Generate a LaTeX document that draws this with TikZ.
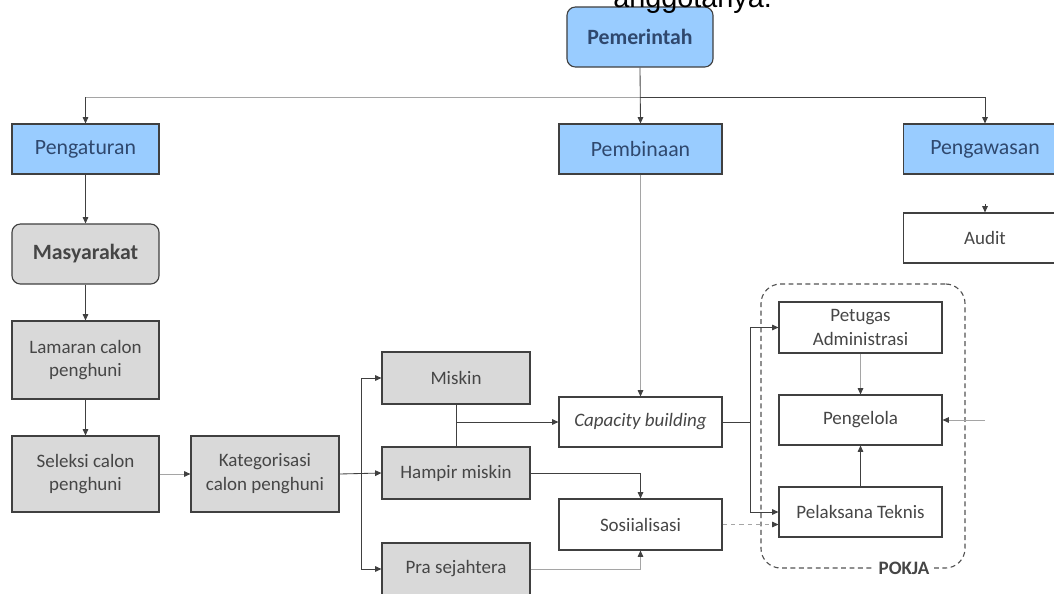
\documentclass[tikz,border=0pt]{standalone}
\usepackage{fontspec}
\setmainfont{Carlito}
\newfontfamily\arialfont{Liberation Sans}
\usetikzlibrary{arrows.meta,calc}
\definecolor{boxblue}{RGB}{153,204,255}
\definecolor{boxgrey}{RGB}{217,217,217}
\definecolor{linedark}{RGB}{64,64,64}
\definecolor{linelight}{RGB}{165,165,165}
\definecolor{textblue}{RGB}{47,72,110}
\definecolor{textgrey}{RGB}{70,70,70}
\tikzset{
	box/.style={draw=linedark, line width=0.8pt, inner sep=2pt, align=center, text=textgrey, font=\fontsize{13.5}{17}\selectfont},
	bluebox/.style={box, fill=boxblue, text=textblue, font=\fontsize{15.5}{18}\selectfont},
	greybox/.style={box, fill=boxgrey},
	arr/.style={draw=linedark, line width=0.6pt, -{Triangle[length=4.5pt,width=4pt,color=linedark]}},
	lightarr/.style={arr, draw=linelight},
}

\begin{document}
\begin{tikzpicture}[x=0.025cm, y=-0.025cm]
		%%%%% START %%%%%
		\useasboundingbox (0,0) rectangle (1054,593);
		
		\node[bluebox, rounded corners=6pt, minimum width=3.65cm, minimum height=1.5cm, font=\bfseries\fontsize{15.5}{18}\selectfont] (pemerintah) at (640,37) {Pemerintah};
		\node[anchor=base west, inner sep=0pt, font=\arialfont\fontsize{20.5}{24}\selectfont] (judul) at (613,7) {anggotanya.};
		
		\node[bluebox, minimum width=3.675cm, minimum height=1.25cm] (pengaturan) at (85.5,149) {Pengaturan};
		\node[bluebox, minimum width=4.075cm, minimum height=1.25cm] (pembinaan) at (640.5,149) {Pembinaan};
		\node[bluebox, minimum width=4.075cm, minimum height=1.25cm] (pengawasan) at (985,149) {Pengawasan};
		\node[box, minimum width=4.075cm, minimum height=1.25cm] (audit) at (985,238) {Audit};
		
		\coordinate (hub) at (640,97);
		\draw[draw=linelight, line width=0.6pt] (hub) -- (hub -| pengaturan);
		\draw[arr] (hub -| pengaturan) -- (pengaturan.north);
		\draw[arr] (pemerintah.south) -- (pembinaan.north);
		\draw[arr] (hub) -| (pengawasan.north);
		\coordinate (auditin) at (985,204);
		\draw[arr] (auditin) -- (audit.north);
		
		% alur masyarakat
		\node[greybox, rounded corners=6pt, minimum width=3.675cm, minimum height=1.5cm, font=\bfseries\fontsize{15.5}{18}\selectfont] (masyarakat) at (85.5,254) {Masyarakat};
		\node[greybox, minimum width=3.675cm, minimum height=1.95cm] (lamaran) at (85.5,360) {Lamaran calon\\penghuni};
		\node[greybox, minimum width=3.675cm, minimum height=1.9cm] (seleksi) at (85.5,474) {Seleksi calon\\penghuni};
		\node[greybox, minimum width=3.7cm, minimum height=1.9cm] (kategorisasi) at (265,474) {Kategorisasi\\calon penghuni};
		
		\draw[arr] (pengaturan.south) -- (masyarakat.north);
		\draw[arr] (masyarakat.south) -- (lamaran.north);
		\draw[arr] (lamaran.south) -- (seleksi.north);
		\draw[lightarr] (seleksi.east) -- (kategorisasi.west);
		
		\node[greybox, minimum width=3.7cm, minimum height=1.3cm] (miskin) at (456,378) {Miskin};
		\node[greybox, minimum width=3.7cm, minimum height=1.3cm] (hampir) at (456,473) {Hampir miskin};
		\node[greybox, minimum width=3.7cm, minimum height=1.3cm] (pra) at (456,569) {Pra sejahtera};
		
		\coordinate (cabang) at (361,474);
		\draw[arr] (kategorisasi.east) -- (hampir.west);
		\draw[arr] (cabang) |- (miskin.west);
		\draw[arr] (cabang) |- (pra.west);
		
		% pembinaan
		\node[box, minimum width=4.075cm, minimum height=1.25cm, font=\itshape\fontsize{13.5}{17}\selectfont] (capacity) at (640.5,422) {Capacity building};
		\node[box, minimum width=4.075cm, minimum height=1.275cm] (sosialisasi) at (640.5,524.5) {Sosiialisasi};
		
		\draw[lightarr] (pembinaan.south) -- (capacity.north);
		\draw[draw=linedark, line width=0.6pt] (miskin.south) -- (hampir.north);
		\draw[arr] (miskin.south |- capacity.west) -- (capacity.west);
		\draw[arr] (hampir.east) -| (sosialisasi.north);
		\draw[lightarr] (pra.east) -| (sosialisasi.south);
		
		% pokja
		\node[draw=linedark!90, line width=0.8pt, dash pattern=on 3.5pt off 2.5pt, rounded corners=14pt, minimum width=5.1cm, minimum height=7.1cm] (pokja) at (863,426) {};
		\node[fill=white, inner sep=3.5pt, text=textgrey, font=\bfseries\fontsize{13.5}{17}\selectfont] (pokjalabel) at (904,568) {POKJA};
		
		\node[box, minimum width=4.075cm, minimum height=1.275cm] (petugas) at (860.5,327.5) {Petugas\\Administrasi};
		\node[box, minimum width=4.075cm, minimum height=1.25cm] (pengelola) at (860.5,420) {Pengelola};
		\node[box, minimum width=4.075cm, minimum height=1.25cm] (pelaksana) at (860.5,512) {Pelaksana Teknis};
		
		\coordinate (cabangdua) at (750,422);
		\draw[draw=linedark, line width=0.6pt] (capacity.east) -- (cabangdua);
		\draw[arr] (cabangdua) |- (petugas.west);
		\draw[arr] (cabangdua) |- (pelaksana.west);
		\draw[lightarr, dashed] (sosialisasi.east) -- (sosialisasi.east -| pelaksana.west);
		\draw[lightarr] (petugas.south) -- (pengelola.north);
		\draw[arr] (pelaksana.north) -- (pengelola.south);
		\coordinate (pengelolain) at (985,420);
		\draw[lightarr] (pengelolain) -- (pengelola.east);
		
		%%%%% END %%%%%
\end{tikzpicture}
\end{document}
